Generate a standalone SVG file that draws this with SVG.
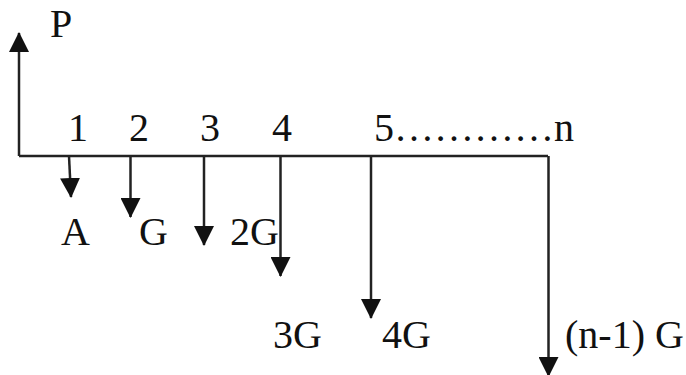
<svg xmlns="http://www.w3.org/2000/svg" width="686" height="375" viewBox="0 0 686 375">
<style>
.t{font-family:"Liberation Serif","Times New Roman",serif;font-size:40px;fill:#111}
.ln{stroke:#222;stroke-width:2.5;fill:none}
</style>
<defs>
<marker id="ah" viewBox="0 0 20 20" refX="19" refY="10" markerWidth="20" markerHeight="20" markerUnits="userSpaceOnUse" orient="auto">
<path d="M0,0 L20,10 L0,20 Z" fill="#111"/>
</marker>
</defs>
<rect width="686" height="375" fill="#fff"/>
<g id="connectors">
<path class="ln" d="M19,156 H548"/>
<path class="ln" d="M19,156 V33" marker-end="url(#ah)"/>
<path class="ln" d="M69,156 L71,197" marker-end="url(#ah)"/>
<path class="ln" d="M130.5,156 V217" marker-end="url(#ah)"/>
<path class="ln" d="M204,156 V245" marker-end="url(#ah)"/>
<path class="ln" d="M280.5,156 V276" marker-end="url(#ah)"/>
<path class="ln" d="M371,156 V318" marker-end="url(#ah)"/>
<path class="ln" d="M548.5,156 V376" marker-end="url(#ah)"/>
</g>
<g id="label-P"><text class="t" x="50" y="37">P</text></g>
<g id="period-1"><text class="t" x="68" y="141">1</text></g>
<g id="period-2"><text class="t" x="129" y="141">2</text></g>
<g id="period-3"><text class="t" x="200" y="141">3</text></g>
<g id="period-4"><text class="t" x="272" y="141">4</text></g>
<g id="period-5n"><text class="t" x="374" y="141">5…………n</text></g>
<g id="cf-A"><text class="t" x="61" y="245">A</text></g>
<g id="cf-G"><text class="t" x="139" y="245">G</text></g>
<g id="cf-2G"><text class="t" x="230" y="245">2G</text></g>
<g id="cf-3G"><text class="t" x="273" y="348">3G</text></g>
<g id="cf-4G"><text class="t" x="382" y="348">4G</text></g>
<g id="cf-nG"><text class="t" x="565" y="348">(n-1) G</text></g>
</svg>
